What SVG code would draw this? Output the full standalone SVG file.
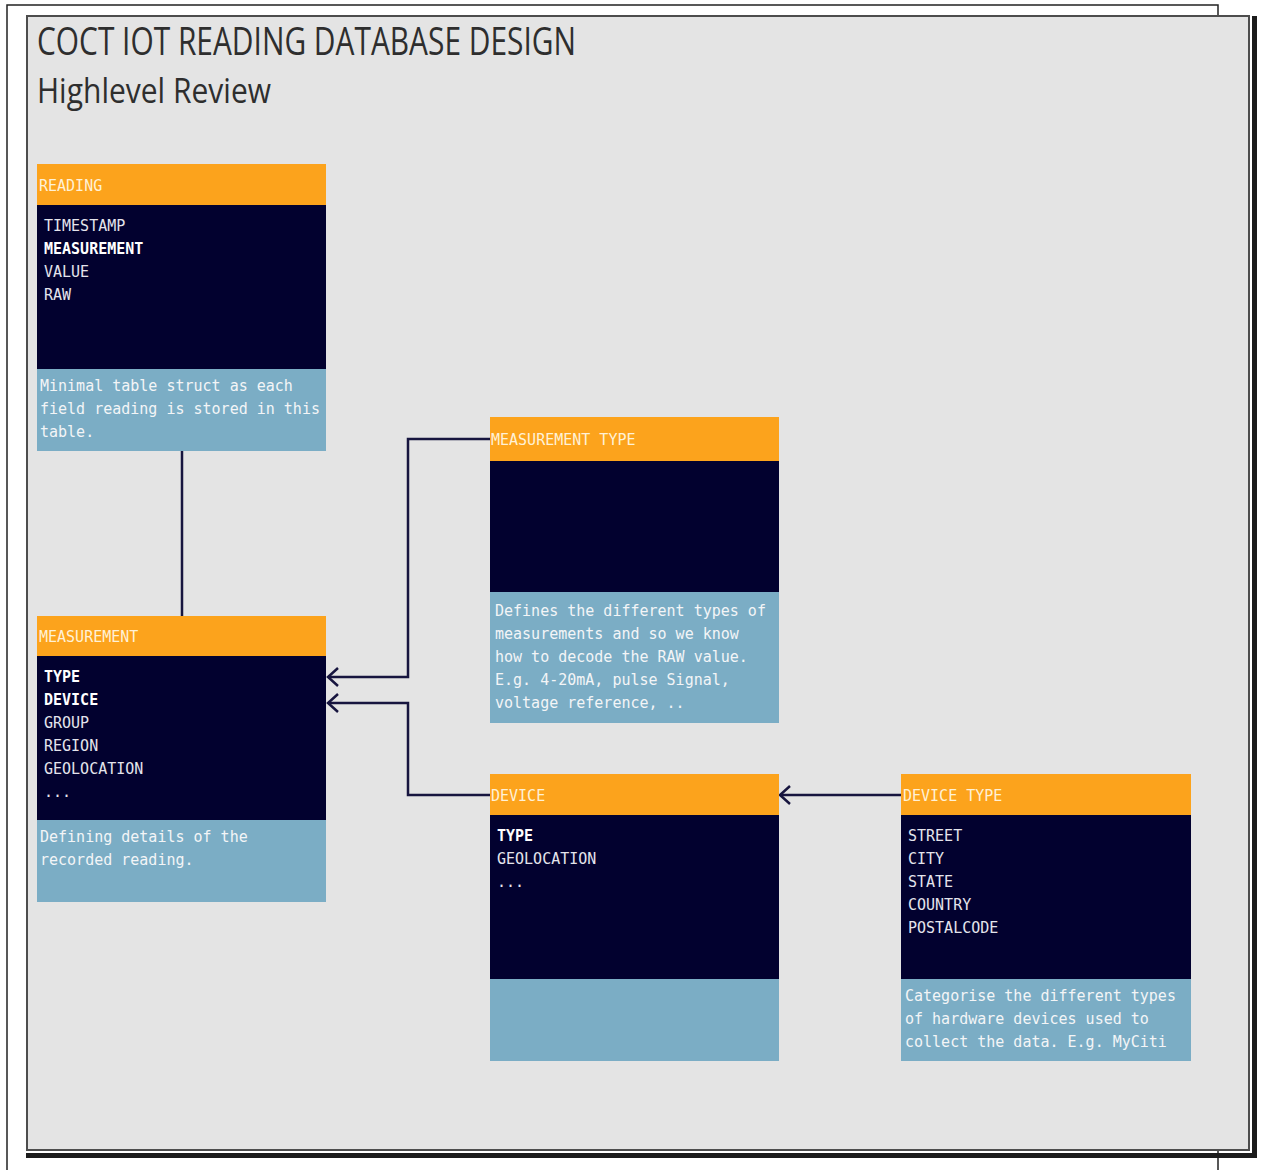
<svg xmlns="http://www.w3.org/2000/svg" width="1262" height="1170" viewBox="0 0 1262 1170">
  <style>
    .title { font-family: "Open Sans", "Noto Sans", sans-serif; fill: #2e2e2e; }
    .hdr { fill: #fca31c; }
    .body { fill: #02012f; }
    .note { fill: #7badc5; }
    .mono { font-family: "DejaVu Sans Mono", "Liberation Mono", monospace; font-size: 15px; }
    .htxt { fill: #fff1d6; }
    .ftxt { fill: #e4e4ec; }
    .ftxt.key { font-weight: bold; fill: #ffffff; }
    .ntxt { fill: #f3f5f7; }
    .conn { fill: none; stroke: #17153f; stroke-width: 2.5; }
  </style>
  <defs>
    <marker id="open-arrow" markerUnits="userSpaceOnUse" viewBox="-12 -11 14 22" refX="0" refY="0" markerWidth="14" markerHeight="22" orient="auto" overflow="visible">
      <path d="M-10,-9 L0,0 L-10,9" fill="none" stroke="#17153f" stroke-width="2.5" stroke-linejoin="miter"/>
    </marker>
  </defs>

  <!-- page background and outer frame -->
  <rect x="0" y="0" width="1262" height="1170" fill="#ffffff"/>
  <path d="M7,1170 V5 H1218 V1170" fill="none" stroke="#222" stroke-width="1.5"/>

  <!-- panel with drop shadow -->
  <rect x="1252" y="16" width="5" height="1142" fill="#1c1c1c"/>
  <rect x="26" y="1153" width="1231" height="5" fill="#1c1c1c"/>
  <rect x="27" y="16" width="1222" height="1134" fill="#e4e4e4" stroke="#4d4d4d" stroke-width="2"/>

  <text class="title" x="37" y="55" font-size="38" textLength="539" lengthAdjust="spacingAndGlyphs">COCT IOT READING DATABASE DESIGN</text>
  <text class="title" x="37" y="103" font-size="34" textLength="234" lengthAdjust="spacingAndGlyphs">Highlevel Review</text>

  <!-- connectors -->
  <g id="connectors">
    <path class="conn" d="M182,451 V616"/>
    <path class="conn" d="M490,439 H408 V677 H328" marker-end="url(#open-arrow)"/>
    <path class="conn" d="M490,795 H408 V703 H328" marker-end="url(#open-arrow)"/>
    <path class="conn" d="M901,795 H780" marker-end="url(#open-arrow)"/>
  </g>

  <!-- READING table -->
  <g id="reading" class="mono">
    <rect class="hdr" x="37" y="164" width="289" height="41"/>
    <rect class="body" x="37" y="205" width="289" height="164"/>
    <rect class="note" x="37" y="369" width="289" height="82"/>
    <text class="htxt" x="39" y="191">READING</text>
    <text class="ftxt" x="44" y="231">TIMESTAMP</text>
    <text class="ftxt key" x="44" y="254">MEASUREMENT</text>
    <text class="ftxt" x="44" y="277">VALUE</text>
    <text class="ftxt" x="44" y="300">RAW</text>
    <text class="ntxt" x="40" y="391">Minimal table struct as each</text>
    <text class="ntxt" x="40" y="414">field reading is stored in this</text>
    <text class="ntxt" x="40" y="437">table.</text>
  </g>

  <!-- MEASUREMENT table -->
  <g id="measurement" class="mono">
    <rect class="hdr" x="37" y="616" width="289" height="40"/>
    <rect class="body" x="37" y="656" width="289" height="164"/>
    <rect class="note" x="37" y="820" width="289" height="82"/>
    <text class="htxt" x="39" y="642">MEASUREMENT</text>
    <text class="ftxt key" x="44" y="682">TYPE</text>
    <text class="ftxt key" x="44" y="705">DEVICE</text>
    <text class="ftxt" x="44" y="728">GROUP</text>
    <text class="ftxt" x="44" y="751">REGION</text>
    <text class="ftxt" x="44" y="774">GEOLOCATION</text>
    <text class="ftxt" x="44" y="797">...</text>
    <text class="ntxt" x="40" y="842">Defining details of the</text>
    <text class="ntxt" x="40" y="865">recorded reading.</text>
  </g>

  <!-- MEASUREMENT TYPE table -->
  <g id="measurement-type" class="mono">
    <rect class="hdr" x="490" y="417" width="289" height="44"/>
    <rect class="body" x="490" y="461" width="289" height="131"/>
    <rect class="note" x="490" y="592" width="289" height="131"/>
    <text class="htxt" x="491" y="445">MEASUREMENT TYPE</text>
    <text class="ntxt" x="495" y="616">Defines the different types of</text>
    <text class="ntxt" x="495" y="639">measurements and so we know</text>
    <text class="ntxt" x="495" y="662">how to decode the RAW value.</text>
    <text class="ntxt" x="495" y="685">E.g. 4-20mA, pulse Signal,</text>
    <text class="ntxt" x="495" y="708">voltage reference, ..</text>
  </g>

  <!-- DEVICE table -->
  <g id="device" class="mono">
    <rect class="hdr" x="490" y="774" width="289" height="41"/>
    <rect class="body" x="490" y="815" width="289" height="164"/>
    <rect class="note" x="490" y="979" width="289" height="82"/>
    <text class="htxt" x="491" y="801">DEVICE</text>
    <text class="ftxt key" x="497" y="841">TYPE</text>
    <text class="ftxt" x="497" y="864">GEOLOCATION</text>
    <text class="ftxt" x="497" y="887">...</text>
  </g>

  <!-- DEVICE TYPE table -->
  <g id="device-type" class="mono">
    <rect class="hdr" x="901" y="774" width="290" height="41"/>
    <rect class="body" x="901" y="815" width="290" height="164"/>
    <rect class="note" x="901" y="979" width="290" height="82"/>
    <text class="htxt" x="903" y="801">DEVICE TYPE</text>
    <text class="ftxt" x="908" y="841">STREET</text>
    <text class="ftxt" x="908" y="864">CITY</text>
    <text class="ftxt" x="908" y="887">STATE</text>
    <text class="ftxt" x="908" y="910">COUNTRY</text>
    <text class="ftxt" x="908" y="933">POSTALCODE</text>
    <text class="ntxt" x="905" y="1001">Categorise the different types</text>
    <text class="ntxt" x="905" y="1024">of hardware devices used to</text>
    <text class="ntxt" x="905" y="1047">collect the data. E.g. MyCiti</text>
  </g>
</svg>
